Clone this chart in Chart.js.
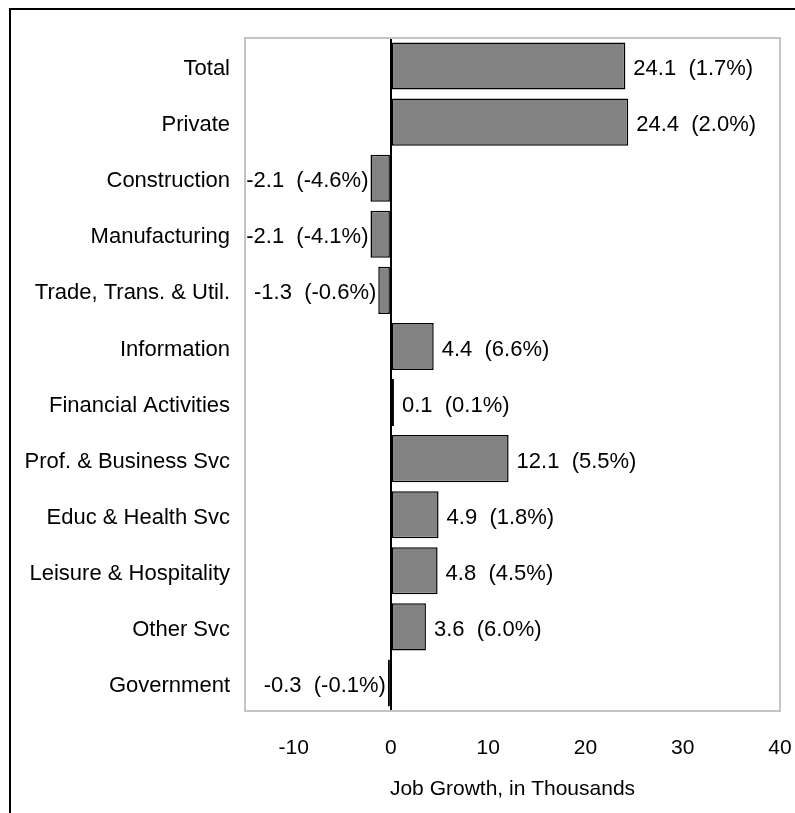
<!DOCTYPE html>
<html>
<head>
<meta charset="utf-8">
<script src="https://cdn.jsdelivr.net/npm/chart.js@4/dist/chart.umd.min.js"></script>
<style>
  html, body { margin: 0; padding: 0; background: #fff; }
  #frame { position: absolute; left: 9px; top: 8px; width: 900px; height: 900px; border: 2px solid #000; }
  #wrap { position: absolute; left: 0; top: 0; width: 795px; height: 813px; }
</style>
</head>
<body>
<div id="frame"></div>
<div id="wrap"><canvas id="chart" width="795" height="813"></canvas></div>
<script>
const categories = ["Total", "Private", "Construction", "Manufacturing", "Trade, Trans. & Util.",
    "Information", "Financial Activities", "Prof. & Business Svc", "Educ & Health Svc",
    "Leisure & Hospitality", "Other Svc", "Government"];
const jobGrowth = [24.1, 24.4, -2.1, -2.1, -1.3, 4.4, 0.1, 12.1, 4.9, 4.8, 3.6, -0.3];
const pctGrowth = ["1.7%", "2.0%", "-4.6%", "-4.1%", "-0.6%", "6.6%", "0.1%", "5.5%", "1.8%", "4.5%", "6.0%", "-0.1%"];
const xTicks = [-10, 0, 10, 20, 30, 40];

const FONT = "'Liberation Sans', Arial, sans-serif";
const LABEL_SIZE = 22;
const AXIS_SIZE = 21;

// stippled gray fill like the original
function makePattern() {
    const c = document.createElement("canvas");
    c.width = 2; c.height = 2;
    const g = c.getContext("2d");
    g.fillStyle = "#808080"; g.fillRect(0, 0, 2, 2);
    g.fillStyle = "#8c8c8c"; g.fillRect(0, 0, 1, 1);
    return g.createPattern(c, "repeat");
}

const plotBorder = {
    id: "plotBorder",
    beforeDatasetsDraw(chart) {
        const { ctx, chartArea: a } = chart;
        ctx.save();
        ctx.strokeStyle = "#c4c4c4";
        ctx.lineWidth = 2;
        ctx.strokeRect(a.left, a.top, a.right - a.left, a.bottom - a.top);
        ctx.restore();
    }
};

const barLabels = {
    id: "barLabels",
    afterDatasetsDraw(chart) {
        const { ctx } = chart;
        const meta = chart.getDatasetMeta(0);
        ctx.save();
        ctx.font = LABEL_SIZE + "px " + FONT;
        ctx.fillStyle = "#000";
        ctx.textBaseline = "middle";
        meta.data.forEach((bar, i) => {
            const txt = jobGrowth[i].toFixed(1) + "  (" + pctGrowth[i] + ")";
            if (jobGrowth[i] >= 0) {
                ctx.textAlign = "left";
                ctx.fillText(txt, bar.x + 8, bar.y + 3);
            } else {
                ctx.textAlign = "right";
                ctx.fillText(txt, bar.x - 2, bar.y + 3);
            }
        });
        ctx.restore();
    }
};

new Chart(document.getElementById("chart"), {
    type: "bar",
    data: {
        labels: categories,
        datasets: [{
            data: jobGrowth,
            backgroundColor: makePattern(),
            borderColor: "#000",
            borderWidth: 1.5,
            borderSkipped: false,
            minBarLength: 3,
            categoryPercentage: 1,
            barPercentage: 0.84
        }]
    },
    options: {
        indexAxis: "y",
        responsive: false,
        animation: false,
        layout: { padding: { top: 38, right: 15, left: 0, bottom: 0 } },
        plugins: { legend: { display: false }, tooltip: { enabled: false } },
        scales: {
            x: {
                min: -15,
                max: 40,
                afterBuildTicks(scale) {
                    scale.ticks = xTicks.map(v => ({ value: v }));
                },
                afterFit(scale) {
                    scale.height = 102;
                    scale.paddingLeft = 0;
                    scale.paddingRight = 0;
                },
                border: { display: false },
                grid: {
                    drawTicks: false,
                    color: ctx => ctx.tick && ctx.tick.value === 0 ? "#000" : "transparent",
                    lineWidth: 2
                },
                ticks: { color: "#000", font: { family: FONT, size: AXIS_SIZE }, padding: 25 },
                title: {
                    display: true,
                    text: "Job Growth, in Thousands",
                    color: "#000",
                    font: { family: FONT, size: AXIS_SIZE },
                    padding: { top: 0, bottom: 11 }
                }
            },
            y: {
                afterFit(scale) { scale.width = 245; },
                border: { display: false },
                grid: { display: false, drawTicks: false },
                ticks: { color: "#000", font: { family: FONT, size: LABEL_SIZE }, padding: 15, labelOffset: 3 }
            }
        }
    },
    plugins: [plotBorder, barLabels]
});
</script>
</body>
</html>
